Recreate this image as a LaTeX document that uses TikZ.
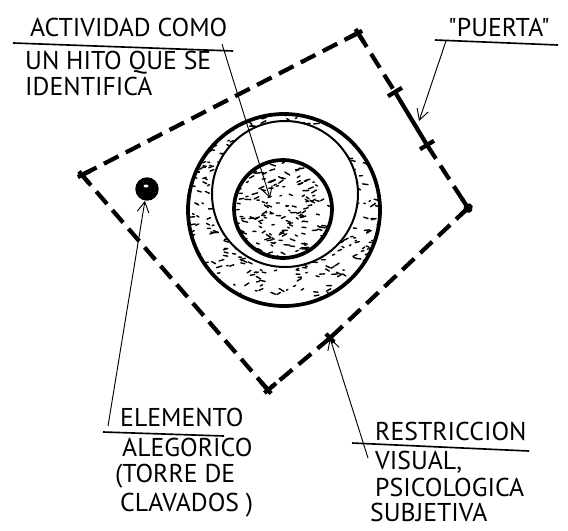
\documentclass[tikz,border=0pt]{standalone}
\usepackage{fontspec}
\newfontfamily\hand{PT Sans}
\usetikzlibrary{arrows.meta, calc}
\tikzset{
  every picture/.style={x=0.03cm, y=-0.03cm},
  bound/.style={line width=3.6pt, dash pattern=on 14pt off 7pt},
  corner/.style={line width=3.6pt},
  ring/.style={line width=3.2pt},
  thinring/.style={line width=1.7pt},
  speck/.style={line width=1.2pt, line cap=round},
  pointer/.style={-{Straight Barb[length=9pt, width=10pt]}, line width=0.8pt},
  rule/.style={line width=1.4pt},
  letters/.style={font=\hand\fontsize{22}{22}\selectfont, inner sep=0pt, anchor=base west,
    text height=15pt, text depth=0pt},
}

\begin{document}
\begin{tikzpicture}
  \useasboundingbox (0,0) rectangle (568,530);
  % plot corners and the door
  \coordinate (cl) at (82,175);
  \coordinate (ct) at (358,33);
  \coordinate (d1) at (395,92);
  \coordinate (d2) at (427,145);
  \coordinate (cr) at (468,208);
  \coordinate (tk) at (330,338);
  \coordinate (cb) at (268,390);
  \coordinate (core) at (270,198);

  % stippled ring and core
  \pgfmathsetseed{11}
  \begin{scope}
    \clip (284,210) circle[radius=96];
    \foreach \i in {1,...,560} {
      \pgfmathsetmacro\px{188+192*rnd}
      \pgfmathsetmacro\py{114+192*rnd}
      \pgfmathsetmacro\pa{-35+70*rnd}
      \pgfmathsetmacro\pl{1.5+4.5*rnd}
      \draw[speck] (\px,\py) -- ++(\pa:\pl);
    }
  \end{scope}
  \fill[white] (285,194) circle[radius=73];
  \begin{scope}
    \clip (283,209) circle[radius=49];
    \foreach \i in {1,...,200} {
      \pgfmathsetmacro\px{234+98*rnd}
      \pgfmathsetmacro\py{160+98*rnd}
      \pgfmathsetmacro\pa{-35+70*rnd}
      \pgfmathsetmacro\pl{1.5+4.5*rnd}
      \draw[speck] (\px,\py) -- ++(\pa:\pl);
    }
  \end{scope}
  \draw[ring] (284,210) circle[radius=96];
  \draw[thinring] (285,194) circle[radius=73];
  \draw[ring] (283,209) circle[radius=49];

  % boundary of the plot
  \draw[bound] (cl) -- (ct);
  \draw[bound] (ct) -- (d1);
  \draw[corner] (d1) -- (d2);
  \draw[bound] (d2) -- (cr);
  \draw[bound] (cr) -- (tk);
  \draw[bound] (tk) -- (cb);
  \draw[bound] (cb) -- (cl);
  \foreach \c/\p/\n in {cl/ct/cb, ct/cl/d1, cr/d2/tk, cb/tk/cl} {
    \draw[corner] ($(\c)!-4pt!(\p)$) -- ($(\c)!9pt!(\p)$);
    \draw[corner] ($(\c)!-4pt!(\n)$) -- ($(\c)!9pt!(\n)$);
  }
  \foreach \a/\b in {d1/d2, d2/d1}
    \draw[corner] ($(\a)!7pt!90:(\b)$) -- ($(\a)!7pt!-90:(\b)$);
  \draw[corner] ($(tk)!5pt!90:(cr)$) -- ($(tk)!5pt!-90:(cr)$);
  \fill (cr) circle[radius=4.5];

  % diving tower
  \node[circle, fill, inner sep=0pt, minimum size=20pt] (tower) at (147,189) {};
  \fill[white] (146,186) ellipse[x radius=2.5, y radius=1.5];

  % labels
  \node[letters] (act1) at (30,36) {ACTIVIDAD COMO};
  \node[letters] (act2) at (25,69) {UN HITO QUE SE};
  \node[letters] (act3) at (25,95) {IDENTIFICA};
  \draw[rule] (13,43) -- (233,51);
  \coordinate (actfoot) at (222,44);
  \draw[pointer] (actfoot) -- (core);

  \node[letters] (door) at (448,36) {"PUERTA"};
  \draw[rule] (435,40) -- (558,45);
  \coordinate (doorfoot) at (446,41);
  \coordinate (doorpt) at (419,121);
  \draw[pointer] (doorfoot) -- (doorpt);

  \node[letters] (elem1) at (120,426) {ELEMENTO};
  \node[letters] (elem2) at (122,456) {ALEGORICO};
  \node[letters] (elem3) at (115,482) {(TORRE DE};
  \node[letters] (elem4) at (120,511) {CLAVADOS )};
  \draw[rule] (103,432) -- (224,436);
  \coordinate (elemfoot) at (108,426);
  \draw[pointer] (elemfoot) -- (tower.-100);

  \node[letters] (restr1) at (375,440) {RESTRICCION};
  \node[letters] (restr2) at (375,469) {VISUAL,};
  \node[letters] (restr3) at (375,496) {PSICOLOGICA};
  \node[letters] (restr4) at (370,521) {SUBJETIVA};
  \draw[rule] (352,443) -- (529,451);
  \coordinate (restrfoot) at (368,458);
  \draw[pointer] (restrfoot) -- (tk);
\end{tikzpicture}
\end{document}
